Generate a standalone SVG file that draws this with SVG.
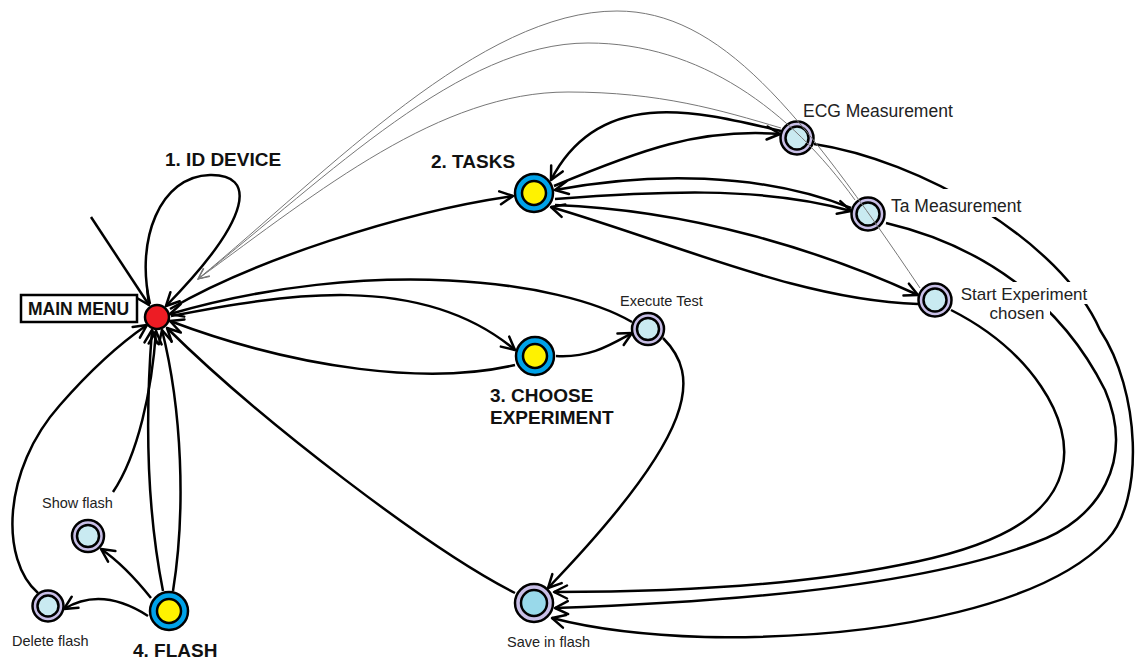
<svg xmlns="http://www.w3.org/2000/svg" width="1140" height="661" viewBox="0 0 1140 661">
  <defs>
    <marker id="arrow" viewBox="-16 -10 20 20" refX="0" refY="0" markerWidth="20" markerHeight="20" markerUnits="userSpaceOnUse" orient="auto">
      <path d="M-13,-6.5 L0,0 L-13,6.5" fill="none" stroke="#000" stroke-width="2.5" stroke-linecap="round" stroke-linejoin="round"/>
    </marker>
    <marker id="arrow-thin" viewBox="-16 -10 20 20" refX="0" refY="0" markerWidth="20" markerHeight="20" markerUnits="userSpaceOnUse" orient="auto">
      <path d="M-11,-5 L0,0 L-11,5" fill="none" stroke="#777" stroke-width="1"/>
    </marker>
  </defs>
  <style>
    .edge { fill: none; stroke: #000; stroke-width: 2.5; marker-end: url(#arrow); }
    .thin { fill: none; stroke: #777; stroke-width: 1; marker-end: url(#arrow-thin); }
    .ring { fill: #00a2e8; stroke: #000; stroke-width: 2.5; }
    .core { fill: #fff200; stroke: #000; stroke-width: 2.5; }
    .halo { fill: #c8bfe7; stroke: #000; stroke-width: 2.5; }
    .pale { fill: #c9eaf1; stroke: #000; stroke-width: 2.5; }
    .title { font-family: "Liberation Sans", Arial, sans-serif; font-weight: bold; font-size: 19px; fill: #111; }
    .label { font-family: "Liberation Sans", Arial, sans-serif; font-size: 17.5px; fill: #222; }
    .small { font-family: "Liberation Sans", Arial, sans-serif; font-size: 14.5px; fill: #222; }
    .mask { fill: #fff; }
  </style>

  <rect width="1140" height="661" fill="#fff"/>

  <!-- transitions -->
  <g id="connectors">
    <!-- start arrow -->
    <path class="edge" d="M 91 217 L 149 305"/>
    <!-- 1. ID DEVICE self loop -->
    <path class="edge" d="M 150 304 C 135 240, 160 176, 210 175 C 255 174, 255 215, 166 306"/>
    <!-- main menu <-> tasks -->
    <path class="edge" d="M 170 309 C 250 262, 400 212, 513 196"/>
    <!-- tasks <-> measurement states -->
    <path class="edge" d="M 781 131 C 700 112, 600 85, 551 180"/>
    <path class="edge" d="M 554 186 C 640 150, 700 128, 780 134"/>
    <path class="edge" d="M 851 208 C 760 172, 650 172, 555 190"/>
    <path class="edge" d="M 555 199 C 650 192, 760 185, 851 211"/>
    <path class="edge" d="M 555 205 C 690 210, 820 250, 918 295"/>
    <path class="edge" d="M 918 304 C 800 300, 680 245, 551 207"/>
    <!-- choose experiment -->
    <path class="edge" d="M 632 322 C 560 280, 370 256, 170 314"/>
    <path class="edge" d="M 171 316 C 280 295, 420 270, 515 350"/>
    <path class="edge" d="M 515 365 C 430 385, 300 370, 170 321"/>
    <path class="edge" d="M 556 356 C 590 358, 610 345, 632 333"/>
    <path class="edge" d="M 663 338 C 700 375, 700 430, 548 588"/>
    <!-- save in flash back to main menu -->
    <path class="edge" d="M 515 593 C 430 550, 260 420, 167 328"/>
    <!-- flash branch -->
    <path class="edge" d="M 163 591 C 147 510, 145 420, 152 330"/>
    <path class="edge" d="M 173 591 C 186 510, 182 410, 162 330"/>
    <path class="edge" d="M 113 492 C 138 455, 152 390, 156 331"/>
    <path class="edge" d="M 38 593 C 0 560, 2 470, 60 405 C 95 365, 125 340, 147 325"/>
    <path class="edge" d="M 151 598 C 135 578, 120 562, 101 549"/>
    <path class="edge" d="M 148 616 C 120 598, 92 592, 64 609"/>
    <!-- long arcs into save in flash -->
    <path class="edge" d="M 951 310 C 1030 350, 1075 420, 1062 470 C 1050 520, 990 548, 900 565 C 800 585, 680 592, 554 592"/>
    <path class="edge" d="M 886 223 C 980 245, 1060 300, 1105 390 C 1135 460, 1100 520, 1034 543 C 950 575, 800 600, 555 608"/>
    <path class="edge" d="M 814 144 C 920 160, 1060 240, 1100 330 C 1140 390, 1145 500, 1107 540 C 1050 600, 900 640, 705 637 C 640 635, 590 628, 552 618"/>
  </g>

  <!-- states -->
  <g id="main-menu">
    <rect x="21" y="295" width="116" height="27" fill="#fff" stroke="#000" stroke-width="2.5"/>
    <text class="title" x="28" y="315" style="font-size:17.5px">MAIN MENU</text>
    <circle cx="157" cy="317" r="12" fill="#ed1c24" stroke="#000" stroke-width="2.5"/>
  </g>
  <g id="id-device">
    <text class="title" x="165" y="166">1. ID DEVICE</text>
  </g>
  <g id="tasks">
    <circle class="ring" cx="534" cy="193" r="19"/>
    <circle class="core" cx="534" cy="193" r="12"/>
    <text class="title" x="431" y="168">2. TASKS</text>
  </g>
  <g id="choose-experiment">
    <circle class="ring" cx="535" cy="356" r="19"/>
    <circle class="core" cx="535" cy="356" r="12"/>
    <text class="title" x="490" y="402">3. CHOOSE</text>
    <text class="title" x="490" y="424">EXPERIMENT</text>
  </g>
  <g id="flash">
    <circle class="ring" cx="169" cy="611" r="19"/>
    <circle class="core" cx="169" cy="611" r="12"/>
    <text class="title" x="133" y="657">4. FLASH</text>
  </g>
  <g id="show-flash">
    <circle class="halo" cx="88" cy="536" r="16"/>
    <circle class="pale" cx="88" cy="536" r="11"/>
    <text class="small" x="42" y="508">Show flash</text>
  </g>
  <g id="delete-flash">
    <circle class="halo" cx="48" cy="606" r="15.5"/>
    <circle class="pale" cx="48" cy="606" r="10.5"/>
    <text class="small" x="12" y="646">Delete flash</text>
  </g>
  <g id="save-in-flash">
    <circle class="halo" cx="534" cy="603" r="19"/>
    <circle cx="534" cy="603" r="13" fill="#99d9ea" stroke="#000" stroke-width="2.5"/>
    <text class="small" x="507" y="647">Save in flash</text>
  </g>
  <g id="execute-test">
    <circle class="halo" cx="648" cy="329" r="16"/>
    <circle class="pale" cx="648" cy="329" r="11"/>
    <text class="small" x="620" y="306">Execute Test</text>
  </g>
  <g id="ecg-measurement">
    <circle class="halo" cx="797" cy="138" r="16.5"/>
    <circle class="pale" cx="797" cy="138" r="11.5"/>
    <text class="label" x="803" y="117">ECG Measurement</text>
  </g>
  <g id="ta-measurement">
    <circle class="halo" cx="868" cy="214" r="16.5"/>
    <circle class="pale" cx="868" cy="214" r="11.5"/>
    <rect class="mask" x="888" y="189" width="142" height="28"/>
    <text class="label" x="891" y="212">Ta Measurement</text>
  </g>
  <g id="start-experiment-chosen">
    <circle class="halo" cx="935" cy="300" r="16.5"/>
    <circle class="pale" cx="935" cy="300" r="11.5"/>
    <rect class="mask" x="954" y="282" width="141" height="22"/>
    <rect class="mask" x="984" y="304" width="66" height="19"/>
    <text class="label" x="1024" y="300" text-anchor="middle" style="font-size:17px">Start Experiment</text>
    <text class="label" x="1017" y="319" text-anchor="middle" style="font-size:17px">chosen</text>
  </g>

  <!-- thin return transitions, drawn over the states they cross -->
  <g id="connectors-overlay">
    <path class="thin" d="M 920 288 C 800 110, 720 11, 617 11 C 480 11, 330 170, 198 279"/>
    <path class="thin" d="M 855 200 C 790 110, 700 43, 588 43 C 460 43, 330 175, 198 279"/>
    <path class="thin" d="M 781 128 C 720 110, 660 92, 568 92 C 440 92, 320 190, 198 279"/>
  </g>
</svg>
